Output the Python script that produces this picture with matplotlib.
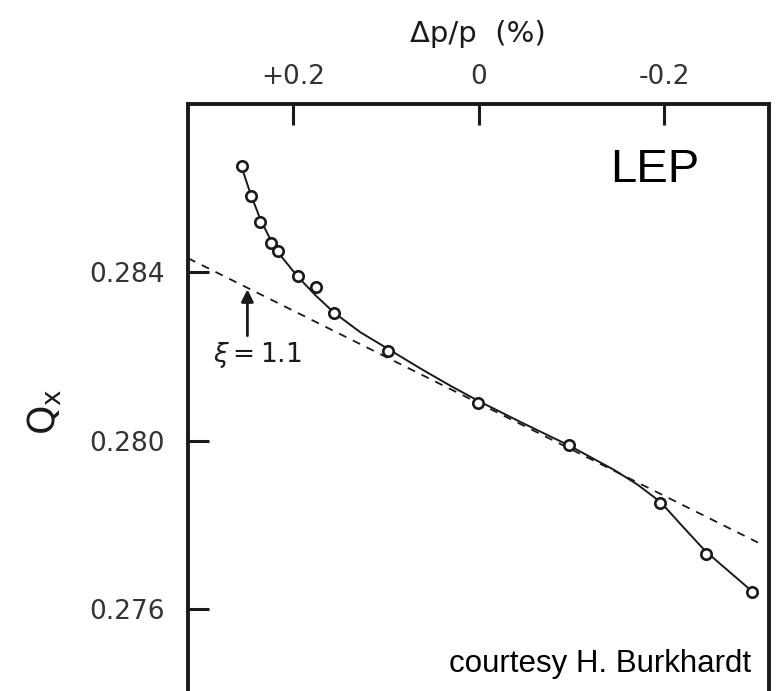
import matplotlib
matplotlib.use("Agg")
import matplotlib.pyplot as plt

# measured tune points (dp/p in %, horizontal tune)
dpp = [0.255, 0.245, 0.235, 0.224, 0.216, 0.195, 0.175, 0.156, 0.098,
       0.001, -0.097, -0.196, -0.245, -0.295]
qx = [0.28652, 0.28581, 0.28519, 0.28470, 0.28451, 0.28391, 0.28365,
      0.28304, 0.28213, 0.28090, 0.27991, 0.27853, 0.27732, 0.27642]

# fitted curve
fit_dpp = [0.2555, 0.2458, 0.2350, 0.2243, 0.2135, 0.1951, 0.1757, 0.1563,
           0.1400, 0.1272, 0.0970, 0.0625, 0.0302, 0.0, -0.0453, -0.0970,
           -0.1456, -0.1710, -0.1962, -0.2200, -0.2447, -0.2954]
fit_qx = [0.28652, 0.28588, 0.28526, 0.28479, 0.28441, 0.28391, 0.28346,
          0.28306, 0.28279, 0.28258, 0.28218, 0.28172, 0.28131, 0.28095,
          0.28045, 0.27990, 0.27932, 0.27897, 0.27855, 0.27797, 0.27738,
          0.27642]

# linear chromaticity line (xi = 1.1)
lin_dpp = [0.313, -0.301]
lin_qx = [0.28434, 0.27759]

xticks = [0.2, 0.0, -0.2]
xtick_labels = ['+0.2', '0', '-0.2']
yticks = [0.276, 0.280, 0.284]
ytick_labels = ['0.276', '0.280', '0.284']

ink = '#1a1a1a'
label_ink = '#333333'

fig = plt.figure(figsize=(7.82, 6.91), dpi=100)
fig.patch.set_facecolor('white')
ax = fig.add_axes([0.2404, -0.1259, 0.743, 0.9754])

ax.plot(lin_dpp, lin_qx, color=ink, lw=1.3, linestyle=(0, (4.5, 4)), zorder=2)
ax.plot(fit_dpp, fit_qx, color=ink, lw=1.4, zorder=3)
ax.plot(dpp, qx, 'o', ms=7.5, mfc='white', mec=ink, mew=1.9, zorder=4)

ax.set_xlim(0.313, -0.313)
ax.set_ylim(0.272, 0.288)

ax.set_xticks(xticks)
ax.set_xticklabels(xtick_labels)
ax.set_yticks(yticks)
ax.set_yticklabels(ytick_labels)
ax.minorticks_off()

ax.tick_params(axis='x', top=True, bottom=True, labeltop=True, labelbottom=False,
               direction='in', length=15, width=2.2, pad=10, labelsize=19,
               colors=ink, labelcolor=label_ink)
ax.tick_params(axis='y', left=True, right=False, direction='in', length=15,
               width=2.2, pad=17, labelsize=19, colors=ink, labelcolor=label_ink)
for s in ax.spines.values():
    s.set_linewidth(2.8)
    s.set_color(ink)

# arrow and chromaticity label
ax.annotate('', xy=(0.249, 0.28360), xytext=(0.249, 0.28250),
            arrowprops=dict(arrowstyle='-|>', color=ink, lw=2.0,
                            mutation_scale=18, shrinkA=0, shrinkB=0))
ax.text(0.238, 0.28204, r'$\xi = 1.1$', ha='center', va='center',
        fontsize=19, color=ink)

ax.text(-0.1423, 0.28614, 'LEP', ha='left', va='baseline',
        fontsize=34, family='Liberation Sans', color='black')
ax.text(0.0323, 0.27452, 'courtesy H. Burkhardt', ha='left', va='baseline',
        fontsize=22.5, family='Liberation Sans', color='black')

fig.text(478 / 782, 1 - 34 / 691, 'Δp/p  (%)', ha='center', va='center',
         fontsize=21, color=ink)
fig.text(45 / 782, 1 - 412 / 691, r'$\mathregular{Q_x}$', ha='center',
         va='center', rotation=90, fontsize=27, color=ink)

fig.savefig('out.png', dpi=100)
